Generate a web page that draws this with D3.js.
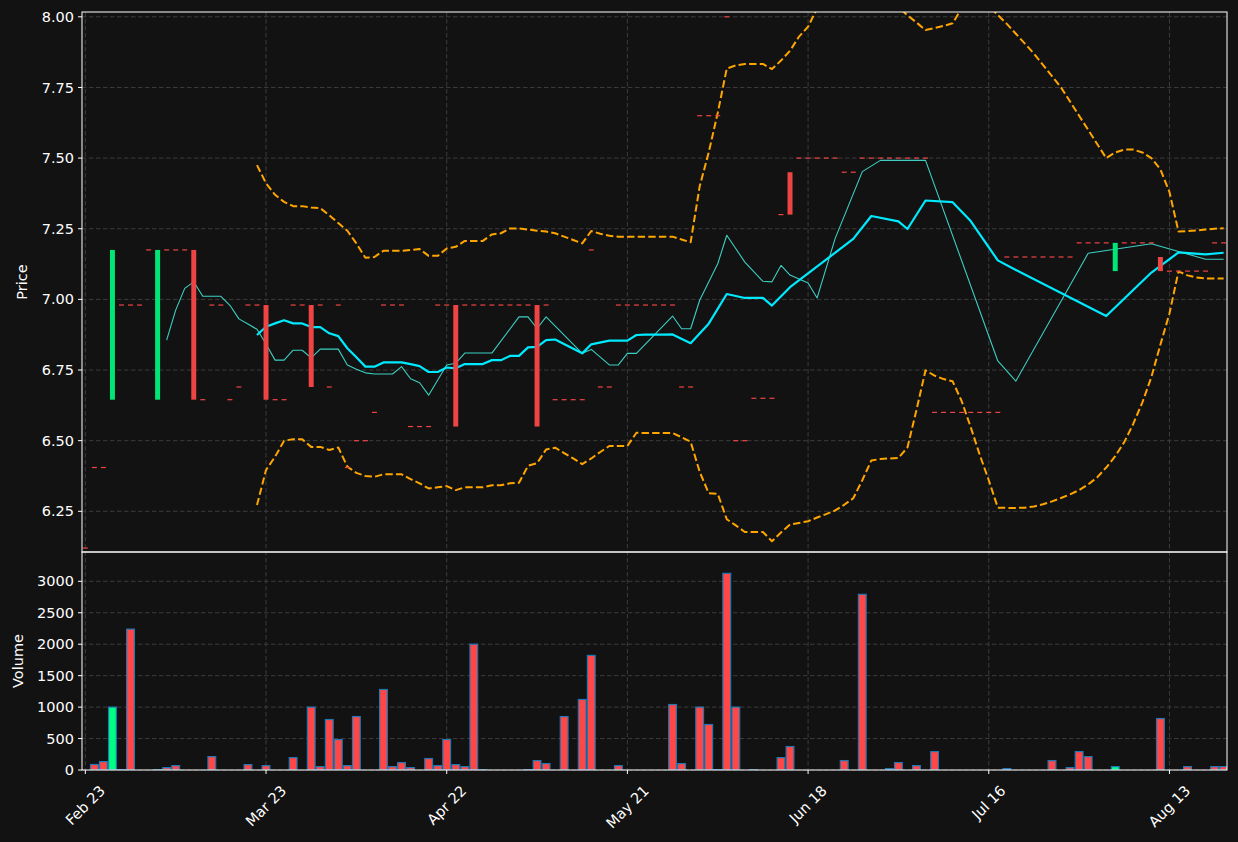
<!DOCTYPE html>
<html><head><meta charset="utf-8">
<script src="https://cdn.jsdelivr.net/npm/d3@7"></script>
<style>html,body{margin:0;padding:0;background:#121212;} svg{display:block;}</style>
</head><body>
<svg id="chart" width="1238" height="842"></svg>
<script>
// ---------------- data ----------------
const N = 127;
const tickLabels = ["Feb 23","Mar 23","Apr 22","May 21","Jun 18","Jul 16","Aug 13"];
const tickIndex  = [0, 20, 40, 60, 80, 100, 120];
const priceTicks = [6.25, 6.50, 6.75, 7.00, 7.25, 7.50, 7.75, 8.00];
const volumeTicks = [0, 500, 1000, 1500, 2000, 2500, 3000];

const closes = [
 6.12,6.405,6.405,7.175,6.98,6.98,6.98,7.175,7.175,7.175,
 7.175,7.175,6.645,6.645,6.98,6.98,6.645,6.69,6.98,6.98,
 6.645,6.645,6.645,6.98,6.98,6.69,6.98,6.69,6.98,6.405,
 6.50,6.50,6.60,6.98,6.98,6.98,6.55,6.55,6.55,6.98,
 6.98,6.55,6.98,6.98,6.98,6.98,6.98,6.98,6.98,6.98,
 6.55,6.98,6.645,6.645,6.645,6.645,7.175,6.69,6.69,6.98,
 6.98,6.98,6.98,6.98,6.98,6.98,6.69,6.69,7.65,7.65,
 7.65,8.00,6.50,6.50,6.65,6.65,6.65,7.30,7.30,7.50,
 7.50,7.50,7.50,7.50,7.45,7.45,7.50,7.50,7.50,7.50,
 7.50,7.50,7.50,7.50,6.60,6.60,6.60,6.60,6.60,6.60,
 6.60,6.60,7.15,7.15,7.15,7.15,7.15,7.15,7.15,7.15,
 7.20,7.20,7.20,7.20,7.20,7.20,7.20,7.20,7.20,7.10,
 7.10,7.10,7.10,7.10,7.10,7.20,7.20
];
const opens = [
 6.12,6.405,6.405,6.645,6.98,6.98,6.98,7.175,6.645,7.175,
 7.175,7.175,7.175,6.645,6.98,6.98,6.645,6.69,6.98,6.98,
 6.98,6.645,6.645,6.98,6.98,6.98,6.98,6.69,6.98,6.405,
 6.50,6.50,6.60,6.98,6.98,6.98,6.55,6.55,6.55,6.98,
 6.98,6.98,6.98,6.98,6.98,6.98,6.98,6.98,6.98,6.98,
 6.98,6.98,6.645,6.645,6.645,6.645,7.175,6.69,6.69,6.98,
 6.98,6.98,6.98,6.98,6.98,6.98,6.69,6.69,7.65,7.65,
 7.65,8.00,6.50,6.50,6.65,6.65,6.65,7.30,7.45,7.50,
 7.50,7.50,7.50,7.50,7.45,7.45,7.50,7.50,7.50,7.50,
 7.50,7.50,7.50,7.50,6.60,6.60,6.60,6.60,6.60,6.60,
 6.60,6.60,7.15,7.15,7.15,7.15,7.15,7.15,7.15,7.15,
 7.20,7.20,7.20,7.20,7.10,7.20,7.20,7.20,7.20,7.15,
 7.10,7.10,7.10,7.10,7.10,7.20,7.20
];
const volumes = [
 0,88,134,1000,4,2240,0,0,4,38,
 70,0,0,0,213,0,0,0,86,0,
 70,0,0,197,0,1000,54,802,484,70,
 850,0,0,1280,54,118,38,0,182,70,
 484,86,54,2000,4,0,0,0,0,4,
 150,102,0,850,0,1121,1822,0,0,70,
 0,0,0,0,0,1041,102,0,1000,723,
 4,3127,1000,0,4,0,0,197,373,0,
 0,0,0,0,150,0,2793,0,0,22,
 118,0,70,0,293,0,0,0,0,0,
 0,0,22,0,0,0,0,150,0,38,
 293,213,0,0,54,0,0,0,0,818,
 0,0,54,0,0,54,54
];
const n = null;
const maFast = [
 n,n,n,n,n,n,n,n,n,6.856,
 6.962,7.039,7.062,7.011,7.011,7.011,6.979,6.931,6.913,6.894,
 6.842,6.785,6.785,6.820,6.820,6.793,6.824,6.824,6.824,6.768,
 6.753,6.740,6.736,6.736,6.736,6.762,6.719,6.705,6.661,n,
 6.768,6.774,6.810,6.810,6.810,6.810,n,n,6.938,6.938,
 6.897,6.938,n,n,n,6.809,6.823,n,6.768,6.768,
 6.809,6.809,n,n,n,6.941,6.896,6.896,6.997,n,
 7.126,7.227,n,7.132,n,7.064,7.062,7.120,7.086,n,
 7.058,7.005,n,7.216,n,n,7.452,n,7.492,7.492,
 7.492,7.492,7.492,7.492,n,n,n,n,n,n,
 n,6.782,n,6.711,n,n,n,n,n,n,
 n,7.163,n,n,n,n,n,n,7.197,n,
 n,n,n,n,7.142,n,7.142
];
const maSlow = [
 n,n,n,n,n,n,n,n,n,n,
 n,n,n,n,n,n,n,n,n,6.874,
 6.903,6.915,6.926,6.915,6.915,6.902,6.902,6.880,6.870,6.827,
 6.795,6.762,6.762,6.777,6.777,6.777,6.771,6.764,6.743,6.743,
 6.759,6.756,6.771,6.771,6.771,6.785,6.785,6.800,6.800,6.830,
 6.832,6.856,6.858,n,n,6.809,6.841,n,6.854,6.854,
 6.854,6.874,6.875,6.875,6.875,6.876,n,6.845,n,6.914,
 n,7.019,n,7.005,7.005,7.005,6.978,n,7.043,n,
 n,n,n,n,n,7.214,n,7.295,n,n,
 7.276,7.249,n,7.350,n,n,7.344,n,7.277,n,
 n,7.138,n,7.104,n,n,n,n,n,n,
 n,n,n,6.941,n,n,n,n,7.095,n,
 n,7.166,n,n,7.159,n,7.165
];
const bbUpper = [
 n,n,n,n,n,n,n,n,n,n,
 n,n,n,n,n,n,n,n,n,7.475,
 7.411,7.370,7.345,7.330,7.330,7.325,7.323,7.298,7.270,7.243,
 7.198,7.147,7.150,7.172,7.172,7.172,7.175,7.178,7.154,7.154,
 7.180,7.186,7.207,7.207,7.207,7.230,7.234,7.251,7.251,7.247,
 7.243,7.240,7.234,7.222,7.210,7.198,7.242,7.232,7.225,7.222,
 7.222,7.222,7.222,7.222,7.222,7.222,7.212,7.202,7.400,7.520,
 7.660,7.817,7.828,7.833,7.833,7.833,7.815,7.845,7.880,7.930,
 7.965,8.030,8.080,8.120,8.140,8.150,8.140,8.120,8.090,8.060,
 8.035,8.005,7.980,7.953,7.960,7.968,7.977,8.030,8.070,8.070,
 8.040,8.006,7.975,7.940,7.905,7.870,7.830,7.790,7.750,7.700,
 7.650,7.600,7.550,7.500,7.520,7.530,7.530,7.520,7.500,7.460,
 7.380,7.240,7.242,7.244,7.247,7.250,7.252
];
const bbLower = [
 n,n,n,n,n,n,n,n,n,n,
 n,n,n,n,n,n,n,n,n,6.272,
 6.396,6.443,6.500,6.505,6.505,6.478,6.478,6.467,6.476,6.408,
 6.386,6.375,6.372,6.381,6.381,6.381,6.364,6.349,6.331,6.335,
 6.339,6.325,6.335,6.335,6.335,6.342,6.342,6.349,6.351,6.411,
 6.420,6.469,6.475,6.456,6.437,6.417,6.437,6.460,6.481,6.481,
 6.481,6.528,6.527,6.527,6.527,6.527,6.512,6.496,6.390,6.314,
 6.312,6.222,6.200,6.177,6.177,6.177,6.144,6.175,6.203,6.209,
 6.215,6.228,6.240,6.253,6.273,6.296,6.360,6.430,6.435,6.437,
 6.439,6.476,6.609,6.749,6.730,6.718,6.710,6.640,6.548,6.450,
 6.360,6.263,6.262,6.262,6.263,6.267,6.275,6.285,6.297,6.310,
 6.325,6.345,6.370,6.405,6.445,6.495,6.560,6.635,6.725,6.840,
 6.950,7.099,7.085,7.077,7.074,7.074,7.074
];

// ---------------- layout ----------------
const L = 82, R = 1227, T = 12, M = 552, B = 770;
const bg = "#121212", textCol = "#ffffff", gridCol = "#3c3c3c";
const upC = "#00e676", downC = "#ef4444", volUp = "#00ff80", volDown = "#ff4747", volEdge = "#1f77b4";
const fs = 14.5;

const svg = d3.select("#chart");
svg.append("rect").attr("width",1238).attr("height",842).attr("fill",bg);

const x = d3.scaleLinear().domain([-0.37, N - 1 + 0.37]).range([L, R]);
const yP = d3.scaleLinear().domain([6.106, 8.017]).range([M, T]);
const yV = d3.scaleLinear().domain([0, 3466]).range([B, M]);
const font = "DejaVu Sans, Liberation Sans, sans-serif";

const defs = svg.append("defs");
defs.append("clipPath").attr("id","clipP").append("rect").attr("x",L).attr("y",T).attr("width",R-L).attr("height",M-T);
defs.append("clipPath").attr("id","clipV").append("rect").attr("x",L).attr("y",M).attr("width",R-L).attr("height",B-M);

// grids
const grid = svg.append("g").attr("stroke",gridCol).attr("stroke-width",1).attr("stroke-dasharray","4.5,2.5");
tickIndex.forEach(i => {
  grid.append("line").attr("x1",x(i)).attr("x2",x(i)).attr("y1",T).attr("y2",B);
});
priceTicks.forEach(p => grid.append("line").attr("x1",L).attr("x2",R).attr("y1",yP(p)).attr("y2",yP(p)));
volumeTicks.forEach(v => grid.append("line").attr("x1",L).attr("x2",R).attr("y1",yV(v)).attr("y2",yV(v)));

// volume bars
const idx = d3.range(N);
const bw = 0.86;
svg.append("g").attr("clip-path","url(#clipV)").selectAll("rect").data(idx.filter(i => volumes[i] > 0)).join("rect")
  .attr("x", i => x(i - bw/2)).attr("width", x(bw) - x(0))
  .attr("y", i => yV(volumes[i])).attr("height", i => Math.max(0.6, yV(0) - yV(volumes[i])))
  .attr("fill", i => closes[i] > opens[i] ? volUp : volDown)
  .attr("stroke", volEdge).attr("stroke-width", 1.2);

// lines
const gLines = svg.append("g").attr("clip-path","url(#clipP)").attr("fill","none");
function drawSeries(arr, color, width, dash) {
  const pts = idx.filter(i => arr[i] !== null).map(i => [x(i), yP(arr[i])]);
  const p = gLines.append("path").attr("d", d3.line()(pts)).attr("stroke", color).attr("stroke-width", width)
    .attr("stroke-linejoin","round");
  if (dash) p.attr("stroke-dasharray", dash);
}
drawSeries(bbUpper, "#ffa500", 2, "7.4,3.2");
drawSeries(bbLower, "#ffa500", 2, "7.4,3.2");
drawSeries(maFast, "#3ccfc2", 1.1, null);
drawSeries(maSlow, "#00eaff", 2.2, null);

// candles
const cw = 0.55;
const gC = svg.append("g").attr("clip-path","url(#clipP)");
gC.selectAll("rect").data(idx).join("rect")
  .attr("x", i => x(i - cw/2)).attr("width", x(cw) - x(0))
  .attr("y", i => opens[i] === closes[i] ? yP(closes[i]) - 0.6 : yP(Math.max(opens[i], closes[i])))
  .attr("height", i => opens[i] === closes[i] ? 1.2 : Math.abs(yP(opens[i]) - yP(closes[i])))
  .attr("fill", i => closes[i] > opens[i] ? upC : downC);

// spines
const sp = svg.append("g").attr("stroke","#ffffff").attr("stroke-width",1).attr("fill","none");
sp.append("rect").attr("x",L).attr("y",T).attr("width",R-L).attr("height",M-T);
sp.append("rect").attr("x",L).attr("y",M).attr("width",R-L).attr("height",B-M);

// y ticks
const tk = svg.append("g").attr("font-family",font).attr("font-size",fs).attr("fill",textCol);
priceTicks.forEach(p => {
  tk.append("line").attr("x1",L-4).attr("x2",L).attr("y1",yP(p)).attr("y2",yP(p)).attr("stroke","#fff");
  tk.append("text").attr("x",L-8).attr("y",yP(p)).attr("dy","0.35em").attr("text-anchor","end").text(p.toFixed(2));
});
volumeTicks.forEach(v => {
  tk.append("line").attr("x1",L-4).attr("x2",L).attr("y1",yV(v)).attr("y2",yV(v)).attr("stroke","#fff");
  tk.append("text").attr("x",L-8).attr("y",yV(v)).attr("dy","0.35em").attr("text-anchor","end").text(v);
});
// x ticks
tickIndex.forEach((i, k) => {
  tk.append("line").attr("x1",x(i)).attr("x2",x(i)).attr("y1",B).attr("y2",B+4).attr("stroke","#fff");
  const t = tk.append("text").attr("text-anchor","middle").attr("dominant-baseline","central").text(tickLabels[k]);
  const w = t.node().getComputedTextLength();
  const cy = B + 13 + (w + fs) * 0.7071 / 2;
  t.attr("transform", `translate(${x(i)},${cy}) rotate(-45)`);
});
// axis labels
svg.append("text").attr("font-family",font).attr("font-size",fs).attr("fill",textCol)
  .attr("text-anchor","middle").attr("transform",`translate(27,${(T+M)/2}) rotate(-90)`).text("Price");
svg.append("text").attr("font-family",font).attr("font-size",fs).attr("fill",textCol)
  .attr("text-anchor","middle").attr("transform",`translate(23,${(M+B)/2}) rotate(-90)`).text("Volume");
</script>
</body></html>
